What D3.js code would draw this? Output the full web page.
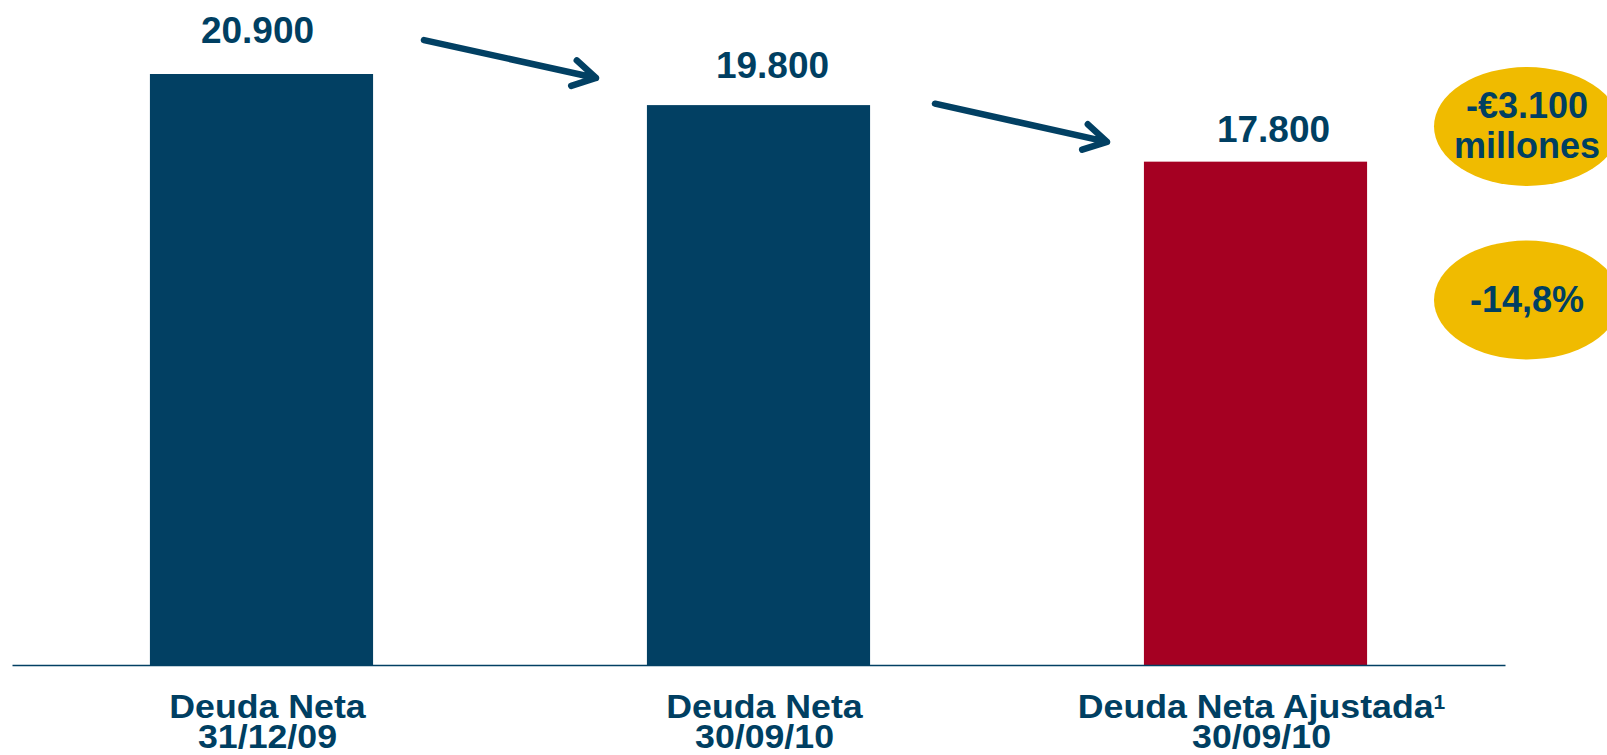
<!DOCTYPE html>
<html>
<head>
<meta charset="utf-8">
<script src="https://cdn.jsdelivr.net/npm/d3@7"></script>
<style>
  html, body { margin: 0; padding: 0; background: #fff; }
  svg { display: block; }
  text { font-family: "Liberation Sans", Arial, sans-serif; font-weight: bold; fill: #003f62; }
</style>
</head>
<body>
<div id="chart"></div>
<script>
var WIDTH = 1607, HEIGHT = 755;

// Deuda neta, millones de euros
var categories = ["Deuda Neta 31/12/09", "Deuda Neta 30/09/10", "Deuda Neta Ajustada 30/09/10"];
var label_line1 = ["Deuda Neta", "Deuda Neta", "Deuda Neta Ajustada"];
var label_line2 = ["31/12/09", "30/09/10", "30/09/10"];
var label_footnote = ["", "", "1"];
var values = [20900, 19800, 17800];
var value_labels = ["20.900", "19.800", "17.800"];
var bar_kind = ["neta", "neta", "ajustada"];
var callouts = [["-\u20AC3.100", "millones"], ["-14,8%"]];

var NAVY = "#024063", RED = "#a50022", GOLD = "#f0bb00";
var BASELINE = 665;

var svg = d3.select("#chart").append("svg")
    .attr("width", WIDTH)
    .attr("height", HEIGHT);

var x = d3.scaleBand()
    .domain(categories)
    .range([12, 1505])
    .paddingInner(0.551)
    .paddingOuter(0.2775);

var y = d3.scaleLinear()
    .domain([0, 20900])
    .range([BASELINE, 74]);

var color = d3.scaleOrdinal()
    .domain(["neta", "ajustada"])
    .range([NAVY, RED]);

var rows = categories.map(function(c, i) {
  return { cat: c, value: values[i], label: value_labels[i], kind: bar_kind[i],
           l1: label_line1[i], l2: label_line2[i], note: label_footnote[i] };
});

// bars
svg.append("g").selectAll("rect")
    .data(rows)
  .enter().append("rect")
    .attr("x", function(d) { return x(d.cat); })
    .attr("y", function(d) { return y(d.value); })
    .attr("width", x.bandwidth())
    .attr("height", function(d) { return y(0) - y(d.value); })
    .attr("fill", function(d) { return color(d.kind); });

// axis line, no ticks
var axis = svg.append("g")
    .attr("transform", "translate(0," + BASELINE + ")")
    .call(d3.axisBottom(x).tickSize(0).tickFormat(""));
axis.select(".domain")
    .attr("stroke", NAVY)
    .attr("stroke-width", 1.5);

// value labels (hand placed in the slide, so nudge a little)
var value_nudge = [[-4, -31], [14, -27], [18, -20]];
svg.append("g").selectAll("text")
    .data(rows)
  .enter().append("text")
    .attr("x", function(d, i) { return x(d.cat) + x.bandwidth() / 2 + value_nudge[i][0]; })
    .attr("y", function(d, i) { return y(d.value) + value_nudge[i][1]; })
    .attr("text-anchor", "middle")
    .style("font-size", "37px")
    .text(function(d) { return d.label; });

// category labels, slightly wide type as in the slide
var cat_labels = svg.append("g").selectAll("text")
    .data(rows)
  .enter().append("text")
    .attr("text-anchor", "middle")
    .style("font-size", "34px")
    .attr("transform", function(d) {
      return "translate(" + (x(d.cat) + x.bandwidth() / 2 + 6) + ",0) scale(1.05,1)";
    });
cat_labels.append("tspan")
    .attr("x", 0)
    .attr("y", 718)
    .text(function(d) { return d.l1; })
  .append("tspan")
    .attr("dy", -9)
    .style("font-size", "20px")
    .text(function(d) { return d.note; });
cat_labels.append("tspan")
    .attr("x", 0)
    .attr("y", 748)
    .text(function(d) { return d.l2; });

// arrows between bars; heights given in data units
var arrows = [
  { from: 0, to: 1, v0: 22100, v1: 20760 },
  { from: 1, to: 2, v0: 19850, v1: 18500 }
];

function ArrowPath(a) {
  var left = x(categories[a.from]) + x.bandwidth(),
      right = x(categories[a.to]);
  var mid = (left + right) / 2 + (a.from == 1 ? 14 : 0);
  var x0 = mid - 86, x1 = mid + 86,
      y0 = y(a.v0), y1 = y(a.v1);
  var ang = Math.atan2(y1 - y0, x1 - x0),
      len = 26, spread = Math.PI / 6;
  var ax = x1 - len * Math.cos(ang - spread), ay = y1 - len * Math.sin(ang - spread),
      bx = x1 - len * Math.cos(ang + spread), by = y1 - len * Math.sin(ang + spread);
  return "M" + x0 + "," + y0 + "L" + x1 + "," + y1 +
         "M" + ax + "," + ay + "L" + x1 + "," + y1 + "L" + bx + "," + by;
}

svg.append("g").selectAll("path")
    .data(arrows)
  .enter().append("path")
    .attr("d", ArrowPath)
    .attr("fill", "none")
    .attr("stroke", NAVY)
    .attr("stroke-width", 6.5)
    .attr("stroke-linecap", "round")
    .attr("stroke-linejoin", "round");

// callout ellipses on the right
var callout_cy = [126.5, 300];
var callout_g = svg.append("g").selectAll("g")
    .data(callouts)
  .enter().append("g")
    .attr("transform", function(d, i) { return "translate(1527," + callout_cy[i] + ")"; });
callout_g.append("ellipse")
    .attr("rx", 93)
    .attr("ry", 59.5)
    .attr("fill", GOLD);
callout_g.each(function(lines) {
  var t = d3.select(this).append("text")
      .attr("text-anchor", "middle")
      .style("font-size", "36px");
  lines.forEach(function(line, j) {
    t.append("tspan")
        .attr("x", 0)
        .attr("y", (j - (lines.length - 1) / 2) * 40 + 11.5)
        .text(line);
  });
});
</script>
</body>
</html>
